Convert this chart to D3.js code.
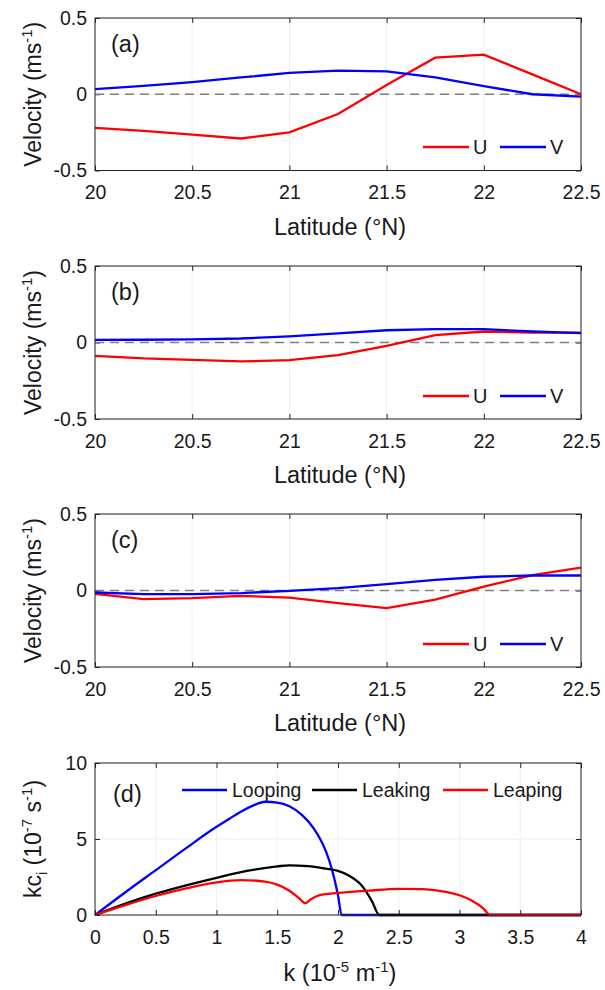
<!DOCTYPE html>
<html>
<head>
<meta charset="utf-8">
<script src="https://cdn.jsdelivr.net/npm/d3@7"></script>
<style>
  body { margin: 0; background: #fff; }
  svg text { font-family: "Liberation Sans", Arial, sans-serif; fill: #1a1a1a; }
</style>
</head>
<body>
<div id="chart"></div>
<script>
// latitude grid for panels a-c
const lat = [20, 20.25, 20.5, 20.75, 21, 21.25, 21.5, 21.75, 22, 22.25, 22.5];

// panel (a)
const uA = [-0.22, -0.24, -0.265, -0.29, -0.25, -0.13, 0.06, 0.24, 0.26, 0.13, 0.0];
const vA = [0.033, 0.055, 0.08, 0.11, 0.14, 0.155, 0.15, 0.11, 0.053, 0.0, -0.016];
// panel (b)
const uB = [-0.087, -0.104, -0.113, -0.124, -0.115, -0.083, -0.022, 0.048, 0.072, 0.065, 0.065];
const vB = [0.017, 0.018, 0.02, 0.026, 0.04, 0.06, 0.08, 0.087, 0.087, 0.072, 0.061];
// panel (c)
const uC = [-0.022, -0.056, -0.05, -0.035, -0.046, -0.083, -0.115, -0.06, 0.026, 0.1, 0.15];
const vC = [-0.013, -0.024, -0.024, -0.017, -0.002, 0.015, 0.041, 0.07, 0.09, 0.098, 0.098];

// panel (d) growth rates
const kLooping = [0, 0.25, 0.5, 0.75, 1.0, 1.1, 1.2, 1.3, 1.4, 1.5, 1.6, 1.7, 1.8, 1.9, 1.95, 2.0, 2.03, 2.5, 3, 3.5, 4];
const looping  = [0, 1.5, 2.95, 4.4, 5.8, 6.3, 6.8, 7.2, 7.45, 7.4, 7.15, 6.6, 5.7, 4.2, 3.0, 1.3, 0, 0, 0, 0, 0];
const kLeaking = [0, 0.25, 0.5, 0.75, 1.0, 1.25, 1.5, 1.6, 1.75, 1.9, 2.0, 2.1, 2.2, 2.28, 2.34, 3, 4];
const leaking  = [0, 0.75, 1.4, 1.95, 2.45, 2.9, 3.2, 3.27, 3.22, 3.05, 2.9, 2.55, 1.9, 0.9, 0, 0, 0];
const kLeaping = [0, 0.25, 0.5, 0.75, 1.0, 1.2, 1.4, 1.5, 1.6, 1.68, 1.73, 1.78, 1.85, 2.0, 2.25, 2.5, 2.7, 2.9, 3.0, 3.1, 3.2, 3.25, 4];
const leaping  = [0, 0.65, 1.25, 1.75, 2.15, 2.3, 2.2, 2.0, 1.6, 1.1, 0.78, 1.05, 1.3, 1.45, 1.6, 1.72, 1.7, 1.5, 1.3, 0.95, 0.4, 0, 0];

// tick labels
const latTicks = [20, 20.5, 21, 21.5, 22, 22.5];
const velTicks = [-0.5, 0, 0.5];
const kTicks = [0, 0.5, 1, 1.5, 2, 2.5, 3, 3.5, 4];
const growthTicks = [0, 5, 10];

const width = 605, height = 990;
const left = 95, right = 581;
const axisColor = "#262626";

const svg = d3.select("#chart").append("svg")
  .attr("width", width)
  .attr("height", height);

// draws the box, grid and ticks of one panel and returns its scales
function drawFrame(top, bottom, xDomain, yDomain, xTicks, yTicks) {
  const x = d3.scaleLinear().domain(xDomain).range([left, right]);
  const y = d3.scaleLinear().domain(yDomain).range([bottom, top]);
  const g = svg.append("g");

  // faint grid
  g.selectAll(".gx").data(xTicks).enter().append("line")
    .attr("x1", d => x(d)).attr("x2", d => x(d))
    .attr("y1", top).attr("y2", bottom)
    .attr("stroke", "#efefef");
  g.selectAll(".gy").data(yTicks).enter().append("line")
    .attr("x1", left).attr("x2", right)
    .attr("y1", d => y(d)).attr("y2", d => y(d))
    .attr("stroke", "#efefef");

  g.append("g").attr("transform", `translate(0,${bottom})`)
    .call(d3.axisBottom(x).tickValues(xTicks).tickFormat(d => d).tickSize(-5).tickPadding(15));
  g.append("g").attr("transform", `translate(${left},0)`)
    .call(d3.axisLeft(y).tickValues(yTicks).tickFormat(d => d).tickSize(-5).tickPadding(8));
  g.append("g").attr("transform", `translate(0,${top})`)
    .call(d3.axisTop(x).tickValues(xTicks).tickFormat("").tickSize(-5));
  g.append("g").attr("transform", `translate(${right},0)`)
    .call(d3.axisRight(y).tickValues(yTicks).tickFormat("").tickSize(-5));

  g.selectAll(".domain").remove();
  g.selectAll(".tick line").attr("stroke", axisColor);
  g.selectAll(".tick text").style("font-size", "19.5px").attr("fill", "#1a1a1a");

  return { x, y };
}

function drawBox(top, bottom) {
  svg.append("rect")
    .attr("x", left).attr("y", top)
    .attr("width", right - left).attr("height", bottom - top)
    .attr("fill", "none").attr("stroke", axisColor).attr("stroke-width", 1);
}

function superLabel(sel, parts) {
  // parts: [text, shift] ; shift: 0 normal, -1 super, 1 sub
  let cur = 0;
  parts.forEach(p => {
    const t = sel.append("tspan").text(p[0]);
    const target = p[1] === -1 ? -9 : p[1] === 1 ? 6 : 0;
    t.attr("dy", target - cur);
    if (p[1] !== 0) t.style("font-size", "15px");
    cur = target;
  });
}

function velocityPanel(top, bottom, u, v, tag, legendY) {
  const { x, y } = drawFrame(top, bottom, [20, 22.5], [-0.5, 0.5], latTicks, velTicks);

  // dashed zero line
  svg.append("line")
    .attr("x1", x(20)).attr("x2", x(22.5))
    .attr("y1", y(0)).attr("y2", y(0))
    .attr("stroke", "#7f7f7f").attr("stroke-width", 1.5)
    .attr("stroke-dasharray", "9,6");

  const line = d3.line().x((d, i) => x(lat[i])).y(d => y(d));
  svg.append("path").datum(u).attr("d", line)
    .attr("fill", "none").attr("stroke", "#ff0000").attr("stroke-width", 2.3);
  svg.append("path").datum(v).attr("d", line)
    .attr("fill", "none").attr("stroke", "#0000ff").attr("stroke-width", 2.3);

  drawBox(top, bottom);

  // legend
  const leg = [["U", "#ff0000", 423], ["V", "#0000ff", 500]];
  leg.forEach(l => {
    svg.append("line").attr("x1", l[2]).attr("x2", l[2] + 46)
      .attr("y1", legendY).attr("y2", legendY)
      .attr("stroke", l[1]).attr("stroke-width", 2.3);
    svg.append("text").attr("x", l[2] + 50).attr("y", legendY + 7)
      .style("font-size", "20px").text(l[0]);
  });

  svg.append("text").attr("x", 111).attr("y", top + 34)
    .style("font-size", "23.5px").text(tag);

  // axis labels
  svg.append("text").attr("x", (left + right) / 2 + 2).attr("y", bottom + 64)
    .attr("text-anchor", "middle").style("font-size", "23.5px")
    .text("Latitude (°N)");
  const yl = svg.append("text")
    .attr("transform", `translate(41,${(top + bottom) / 2}) rotate(-90)`)
    .attr("text-anchor", "middle").style("font-size", "23px");
  superLabel(yl, [["Velocity (ms", 0], ["-1", -1], [")", 0]]);
}

velocityPanel(18, 170.5, uA, vA, "(a)", 147);
velocityPanel(266, 419, uB, vB, "(b)", 396);
velocityPanel(514, 667, uC, vC, "(c)", 644);

// panel (d)
(function () {
  const top = 763, bottom = 915;
  const { x, y } = drawFrame(top, bottom, [0, 4], [0, 10], kTicks, growthTicks);

  const series = [
    [kLooping, looping, "#0000ff"],
    [kLeaking, leaking, "#000000"],
    [kLeaping, leaping, "#ff0000"]
  ];
  series.forEach(s => {
    const line = d3.line().curve(d3.curveMonotoneX)
      .x((d, i) => x(s[0][i])).y(d => y(d));
    svg.append("path").datum(s[1]).attr("d", line)
      .attr("fill", "none").attr("stroke", s[2]).attr("stroke-width", 2.3);
  });

  drawBox(top, bottom);

  const leg = [["Looping", "#0000ff", 182], ["Leaking", "#000000", 312], ["Leaping", "#ff0000", 443]];
  leg.forEach(l => {
    svg.append("line").attr("x1", l[2]).attr("x2", l[2] + 45)
      .attr("y1", 790).attr("y2", 790)
      .attr("stroke", l[1]).attr("stroke-width", 2.3);
    svg.append("text").attr("x", l[2] + 50).attr("y", 797)
      .style("font-size", "19.5px").text(l[0]);
  });

  svg.append("text").attr("x", 113).attr("y", top + 39)
    .style("font-size", "23.5px").text("(d)");

  const xl = svg.append("text").attr("x", (left + right) / 2 + 2).attr("y", bottom + 66)
    .attr("text-anchor", "middle").style("font-size", "23.5px");
  superLabel(xl, [["k (10", 0], ["-5", -1], [" m", 0], ["-1", -1], [")", 0]]);

  const yl = svg.append("text")
    .attr("transform", `translate(41,${(top + bottom) / 2}) rotate(-90)`)
    .attr("text-anchor", "middle").style("font-size", "23px");
  superLabel(yl, [["kc", 0], ["i", 1], [" (10", 0], ["-7", -1], [" s", 0], ["-1", -1], [")", 0]]);
})();
</script>
</body>
</html>
